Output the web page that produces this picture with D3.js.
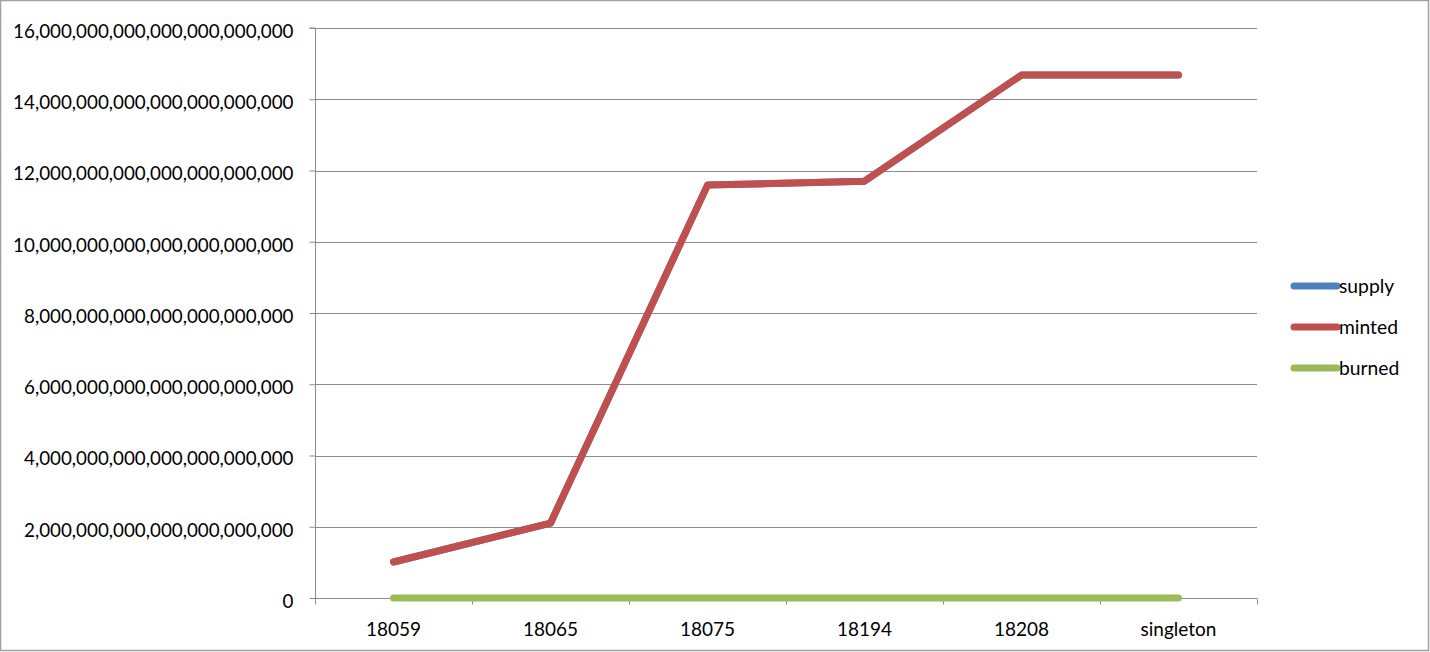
<!DOCTYPE html>
<html><head><meta charset="utf-8">
<script src="https://cdn.jsdelivr.net/npm/d3@7"></script>
<style>body{margin:0;background:#fff}svg{display:block}text{font-family:Lato,"Liberation Sans",sans-serif;fill:#000}</style>
</head><body>
<svg id="c" width="1430" height="652"></svg>
<script>
const categories = ["18059","18065","18075","18194","18208","singleton"];
const supply = [1.01e21, 2.10e21, 11.59e21, 11.70e21, 14.68e21, 14.68e21];
const minted = [1.01e21, 2.10e21, 11.59e21, 11.70e21, 14.68e21, 14.68e21];
const burned = [0, 0, 0, 0, 0, 0];
const yTicks = [0,2e21,4e21,6e21,8e21,10e21,12e21,14e21,16e21];
const seriesNames = ["supply","minted","burned"];
const seriesColors = ["#4F81BD","#C0504D","#9BBB59"];
const seriesValues = [supply, minted, burned];

const svg = d3.select("#c");
svg.append("rect").attr("x",0.5).attr("y",0.5).attr("width",1428).attr("height",650)
  .attr("fill","#fff").attr("stroke","#a0a0a0").attr("stroke-width",1.5);

const L=315, R=1257, T=28, B=598;
const x = d3.scaleBand().domain(categories).range([L,R]);
const y = d3.scaleLinear().domain([0,16e21]).range([B,T]);
const grid="#8c8c8c";

svg.append("g").selectAll("line").data(yTicks.slice(1)).join("line")
  .attr("x1",L).attr("x2",R).attr("y1",d=>Math.round(y(d))+0.5).attr("y2",d=>Math.round(y(d))+0.5)
  .attr("stroke",grid).attr("stroke-width",1);

const fmt = d=>{ if(d===0) return "0"; const s=BigInt(Math.round(d/1e18))*1000000000000000000n; return s.toString().replace(/\B(?=(\d{3})+(?!\d))/g,","); };
const yAxis = d3.axisLeft(y).tickValues(yTicks).tickSize(6).tickPadding(16).tickFormat(fmt);
const gy = svg.append("g").attr("transform",`translate(${L+0.5},0)`).call(yAxis);
gy.select(".domain").attr("stroke",grid).attr("d",`M-6,${T}H0V${B}`);
gy.selectAll(".tick line").attr("stroke",grid);
gy.selectAll(".tick text").style("font-size","18.8px").attr("dy","0.5em").attr("fill","#000");

const gx = svg.append("g").attr("transform",`translate(0,${B+0.5})`);
gx.append("line").attr("x1",L).attr("x2",R).attr("stroke",grid);
const bounds = categories.map(c=>x(c)).concat([R]);
gx.selectAll("line.t").data(bounds).join("line").attr("class","t")
  .attr("x1",d=>Math.round(d)+0.5).attr("x2",d=>Math.round(d)+0.5).attr("y1",0).attr("y2",6).attr("stroke",grid);
gx.selectAll("text").data(categories).join("text")
  .attr("x",d=>x(d)+x.bandwidth()/2).attr("y",37).attr("text-anchor","middle")
  .style("font-size","19px").text(d=>d);

const line = d3.line().x((d,i)=>x(categories[i])+x.bandwidth()/2).y(d=>y(d));
seriesValues.forEach((vals,k)=>{
  svg.append("path").attr("d",line(vals)).attr("fill","none")
    .attr("stroke",seriesColors[k]).attr("stroke-width",7)
    .attr("stroke-linecap","round").attr("stroke-linejoin","round");
});

const lg = svg.append("g");
seriesNames.forEach((n,i)=>{
  const yy = 286 + i*41;
  lg.append("line").attr("x1",1294).attr("x2",1337).attr("y1",yy).attr("y2",yy)
    .attr("stroke",seriesColors[i]).attr("stroke-width",7).attr("stroke-linecap","round");
  lg.append("text").attr("x",1339).attr("y",yy+7).style("font-size","19.3px").text(n);
});
</script>
</body></html>
